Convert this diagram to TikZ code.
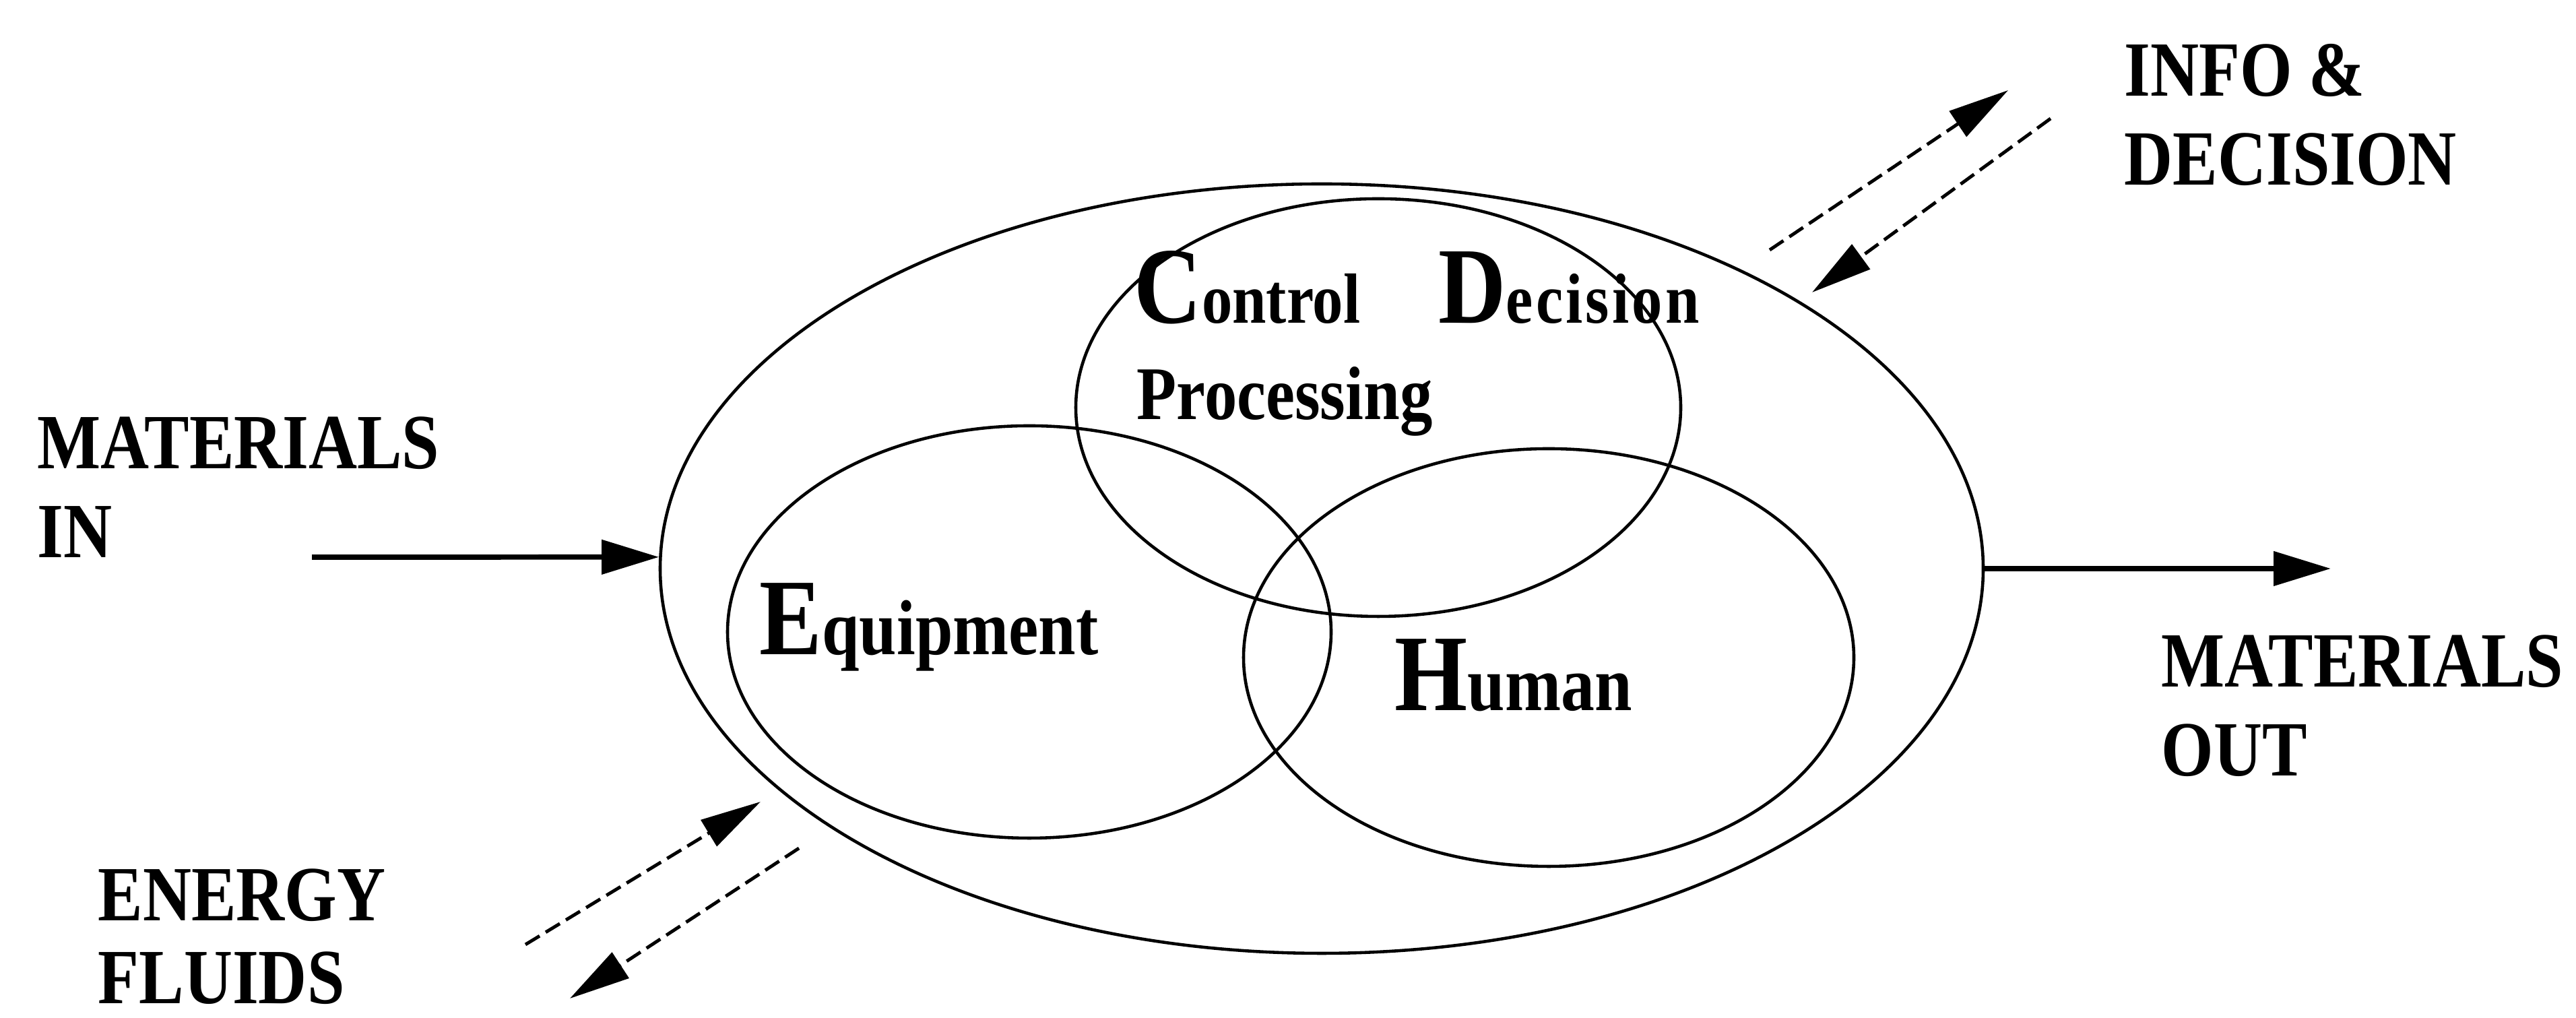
\documentclass[tikz,border=0pt]{standalone}
\usepackage{fontspec}
\setmainfont[FakeStretch=0.86]{Liberation Serif}
\usetikzlibrary{shapes.geometric,arrows.meta}
\newcommand{\firstletter}[1]{{\fontsize{46}{46}\selectfont #1}}

\begin{document}
\begin{tikzpicture}[
  ring/.style={draw, ellipse, line width=1.3pt, inner sep=0pt},
  sidelabel/.style={font=\bfseries\fontsize{33}{37.5}\selectfont, align=left, inner sep=0pt, anchor=north west},
  inlabel/.style={font=\bfseries\fontsize{33}{33}\selectfont, inner sep=0pt, anchor=base west},
  matflow/.style={-{Triangle[length=8.5mm,width=5mm]}, line width=2.2pt},
  sigflow/.style={-{Triangle[length=9mm,width=4.5mm]}, line width=1.4pt, dash pattern=on 7pt off 3pt}
]
\useasboundingbox (0,0) rectangle (38.24,15.11);

\node[ring, minimum width=19.64cm, minimum height=11.42cm] (sys) at (19.62,6.67) {};
\node[ring, minimum width=8.98cm, minimum height=6.20cm] (ctl) at (20.46,9.06) {};
\node[ring, minimum width=8.96cm, minimum height=6.12cm] (eqp) at (15.28,5.73) {};
\node[ring, minimum width=9.06cm, minimum height=6.20cm] (hum) at (22.99,5.35) {};

\node[inlabel, font=\bfseries\fontsize{30}{30}\selectfont] (ctltext) at (16.83,10.31)
{\firstletter{C}ontrol\hspace{1.1em}\firstletter{D}e\hspace{0.04em}c\hspace{0.04em}i\hspace{0.04em}s\hspace{0.04em}i\hspace{0.04em}o\hspace{0.04em}n};
\node[inlabel, font=\bfseries\fontsize{32}{32}\selectfont] (proctext) at (16.87,8.88) {Processing};
\node[inlabel] (eqptext) at (11.27,5.39) {\firstletter{E}quipment};
\node[inlabel] (humtext) at (20.70,4.56) {\firstletter{H}uman};

\node[sidelabel] (matin) at (0.55,8.93) {MATERIALS\\IN};
\node[sidelabel] (matout) at (32.08,5.69) {MATERIALS\\OUT};
\node[sidelabel] (info) at (31.53,14.46) {INFO \&\\DECISION};
\node[sidelabel, font=\bfseries\fontsize{33}{35}\selectfont] (energy) at (1.45,2.22) {ENERGY\\FLUIDS};

\coordinate (inS) at (4.63,6.84);
\coordinate (outE) at (34.60,6.67);
\coordinate (infoA) at (26.27,11.40);
\coordinate (infoB) at (29.81,13.77);
\coordinate (infoC) at (30.44,13.35);
\coordinate (infoD) at (26.90,10.77);
\coordinate (enA) at (7.80,1.09);
\coordinate (enB) at (11.29,3.21);
\coordinate (enC) at (11.86,2.52);
\coordinate (enD) at (8.46,0.29);

\draw[matflow] (inS) -- (sys.179);
\draw[matflow] (sys.east) -- (outE);
\draw[sigflow] (infoA) -- (infoB);
\draw[sigflow] (infoC) -- (infoD);
\draw[sigflow] (enA) -- (enB);
\draw[sigflow] (enC) -- (enD);
\end{tikzpicture}
\end{document}
